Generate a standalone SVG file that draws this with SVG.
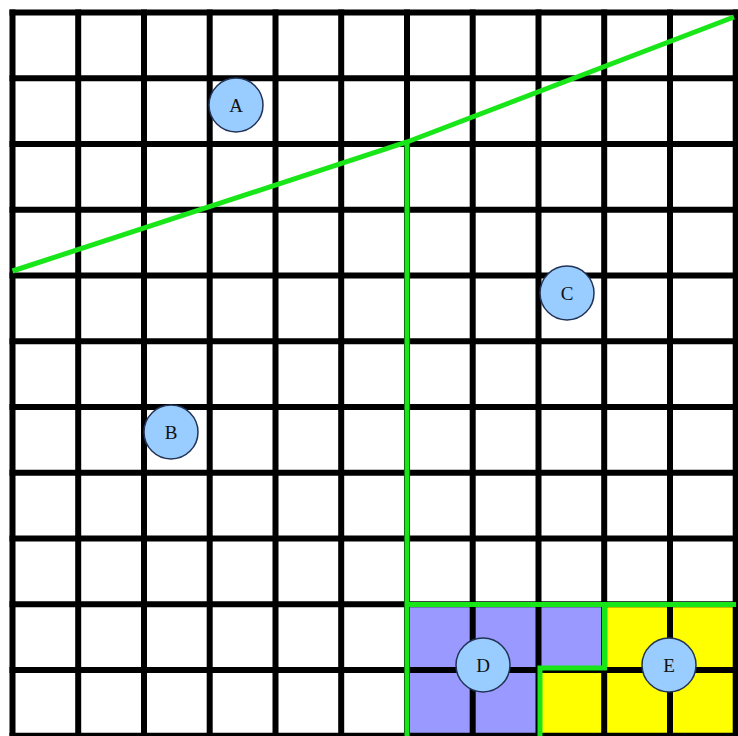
<svg xmlns="http://www.w3.org/2000/svg" width="738" height="736" viewBox="0 0 738 736">
<style>
.grid{stroke:#000;stroke-width:6;fill:none;stroke-linecap:square}
.green{stroke:#19e619;stroke-width:5;fill:none;stroke-linejoin:miter}
.node circle{fill:#99ccff;stroke:#223355;stroke-width:1.5}
.node text{font-family:"Liberation Serif",serif;font-size:19px;fill:#111;text-anchor:middle;dominant-baseline:central}
</style>
<rect x="0" y="0" width="738" height="736" fill="#fff"/>
<g id="regions">
<path d="M407 604.5H604.2V669.5H538.5V736H407Z" fill="#9999ff"/>
<path d="M604.2 604.5H738V736H538.5V669.5H604.2Z" fill="#ffff00"/>
</g>
<g id="grid" class="grid">
<path d="M12.5 12.5V740M78.2 12.5V740M144 12.5V740M209.7 12.5V740M275.5 12.5V740M341.2 12.5V740M407 12.5V740M472.7 12.5V740M538.5 12.5V740M604.2 12.5V740M670 12.5V740M735.7 12.5V740"/>
<path d="M12.5 12.5H740M12.5 78.2H740M12.5 144H740M12.5 209.7H740M12.5 275.5H740M12.5 341.2H740M12.5 407H740M12.5 472.7H740M12.5 538.5H740M12.5 604.2H740M12.5 670H740M12.5 735.7H740"/>
</g>
<g id="connectors" class="green">
<polyline points="12.5,271 407,142 734,17"/>
<polyline points="407,142 407,738"/>
<polyline points="407,604.5 736,604.5"/>
<polyline points="540,738 540,668 604.5,668 604.5,604.5"/>
</g>
<g id="A" class="node"><circle cx="236" cy="105" r="27"/><text x="236" y="105">A</text></g>
<g id="B" class="node"><circle cx="171" cy="432" r="27"/><text x="171" y="432">B</text></g>
<g id="C" class="node"><circle cx="567" cy="293" r="27"/><text x="567" y="293">C</text></g>
<g id="D" class="node"><circle cx="483" cy="665" r="27"/><text x="483" y="665">D</text></g>
<g id="E" class="node"><circle cx="669" cy="665" r="27"/><text x="669" y="665">E</text></g>
</svg>
